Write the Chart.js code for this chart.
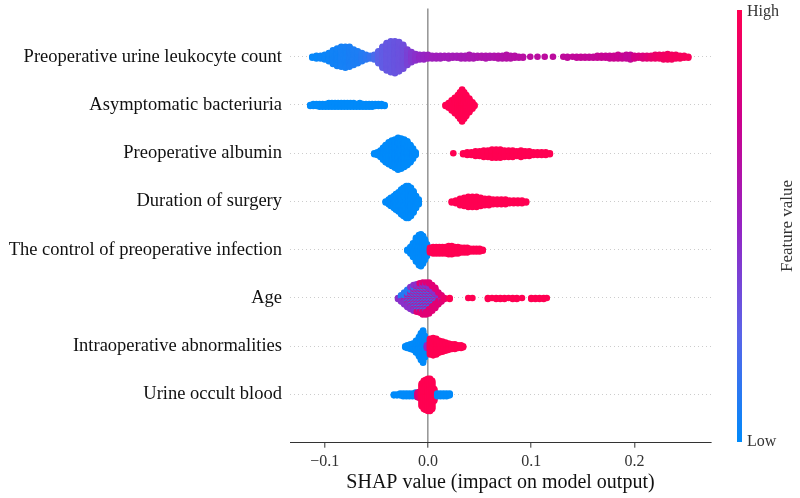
<!DOCTYPE html>
<html>
<head>
<meta charset="utf-8">
<script src="https://cdn.jsdelivr.net/npm/chart.js@4.4.1/dist/chart.umd.min.js"></script>
<style>
  html, body { margin: 0; padding: 0; background: #fff; }
  #wrap { width: 800px; height: 498px; }
</style>
</head>
<body>
<div id="wrap"><canvas id="shap-chart"></canvas></div>
<script>
// Feature names, top to bottom
const features = [
  'Preoperative urine leukocyte count',
  'Asymptomatic bacteriuria',
  'Preoperative albumin',
  'Duration of surgery',
  'The control of preoperative infection',
  'Age',
  'Intraoperative abnormalities',
  'Urine occult blood'
];

// Each entry: [SHAP value, number of samples at that value, feature value 0 (low) .. 1 (high)]
const leukocyteCount = [
  [-0.112, 2, 0.02], [-0.108, 4, 0.02], [-0.104, 4, 0.03], [-0.100, 6, 0.03], [-0.096, 10, 0.04],
  [-0.092, 16, 0.05], [-0.088, 20, 0.05], [-0.084, 23, 0.06], [-0.080, 24, 0.06], [-0.076, 23, 0.07],
  [-0.072, 18, 0.08], [-0.068, 14, 0.08], [-0.064, 10, 0.1], [-0.060, 6, 0.12], [-0.056, 4, 0.15],
  [-0.052, 6, 0.2], [-0.048, 14, 0.26], [-0.044, 24, 0.28], [-0.040, 31, 0.3], [-0.036, 35, 0.3],
  [-0.032, 36, 0.31], [-0.028, 33, 0.32], [-0.024, 27, 0.34], [-0.020, 18, 0.38], [-0.016, 12, 0.42],
  [-0.012, 8, 0.45], [-0.008, 6, 0.48], [-0.004, 6, 0.5], [0.000, 5, 0.52], [0.004, 4, 0.53],
  [0.008, 4, 0.54], [0.012, 4, 0.54], [0.016, 3, 0.55], [0.020, 4, 0.55], [0.024, 3, 0.56],
  [0.028, 3, 0.56], [0.032, 4, 0.57], [0.036, 4, 0.57], [0.040, 5, 0.58], [0.044, 4, 0.58],
  [0.048, 3, 0.59], [0.052, 3, 0.6], [0.056, 4, 0.6], [0.060, 3, 0.6], [0.064, 3, 0.61],
  [0.068, 4, 0.62], [0.072, 4, 0.62], [0.076, 5, 0.63], [0.080, 4, 0.63], [0.084, 3, 0.64],
  [0.088, 2, 0.64], [0.092, 2, 0.65], [0.099, 1, 0.66], [0.106, 1, 0.66], [0.113, 1, 0.67],
  [0.121, 1, 0.67], [0.131, 1, 0.68], [0.135, 2, 0.68], [0.140, 1, 0.69], [0.144, 2, 0.69],
  [0.148, 2, 0.7], [0.152, 2, 0.7], [0.156, 2, 0.7], [0.160, 2, 0.7], [0.164, 3, 0.71],
  [0.168, 3, 0.72], [0.172, 3, 0.72], [0.176, 4, 0.72], [0.180, 4, 0.73], [0.184, 5, 0.73],
  [0.188, 4, 0.72], [0.192, 5, 0.7], [0.196, 6, 0.7], [0.200, 4, 0.78], [0.204, 3, 0.8],
  [0.208, 4, 0.82], [0.212, 4, 0.85], [0.216, 4, 0.88], [0.220, 5, 0.9], [0.224, 5, 0.92],
  [0.228, 6, 0.93], [0.232, 7, 0.94], [0.236, 6, 0.95], [0.240, 5, 0.95], [0.244, 4, 0.96],
  [0.248, 3, 0.96], [0.252, 2, 0.97]
];

const bacteriuria = [
  [-0.114, 2, 0], [-0.111, 3, 0], [-0.108, 3, 0], [-0.105, 4, 0], [-0.102, 4, 0], [-0.099, 4, 0],
  [-0.096, 5, 0], [-0.093, 5, 0], [-0.090, 5, 0], [-0.087, 5, 0], [-0.084, 5, 0], [-0.081, 5, 0],
  [-0.078, 5, 0], [-0.075, 5, 0], [-0.072, 5, 0], [-0.069, 4, 0], [-0.066, 5, 0], [-0.063, 4, 0],
  [-0.060, 4, 0], [-0.057, 4, 0], [-0.054, 4, 0], [-0.051, 3, 0], [-0.048, 3, 0], [-0.045, 3, 0],
  [-0.042, 2, 0],
  [0.017, 2, 1], [0.020, 6, 1], [0.023, 12, 1], [0.026, 18, 1], [0.029, 24, 1], [0.031, 30, 1],
  [0.033, 36, 1], [0.035, 30, 1], [0.037, 24, 1], [0.040, 16, 1], [0.043, 8, 1], [0.045, 2, 1]
];

const albumin = [
  [-0.052, 2, 0], [-0.049, 4, 0], [-0.046, 8, 0], [-0.0435, 14, 0], [-0.041, 20, 0], [-0.038, 25, 0],
  [-0.035, 29, 0], [-0.032, 32, 0], [-0.029, 36, 0], [-0.026, 34, 0], [-0.023, 31, 0], [-0.020, 27, 0],
  [-0.017, 20, 0], [-0.0145, 12, 0], [-0.012, 4, 0],
  [0.0245, 1, 1], [0.034, 2, 1], [0.038, 4, 1], [0.042, 4, 1], [0.046, 6, 1], [0.050, 6, 1],
  [0.054, 8, 1], [0.058, 8, 1], [0.062, 10, 1], [0.066, 10, 1], [0.070, 10, 1], [0.074, 8, 1],
  [0.078, 8, 1], [0.082, 8, 1], [0.086, 6, 1], [0.090, 8, 1], [0.094, 6, 1], [0.098, 6, 1],
  [0.102, 4, 1], [0.106, 4, 1], [0.110, 4, 1], [0.114, 4, 1], [0.118, 2, 1]
];

const surgeryDuration = [
  [-0.041, 2, 0], [-0.038, 6, 0], [-0.036, 10, 0], [-0.033, 14, 0], [-0.031, 18, 0], [-0.0285, 22, 0],
  [-0.026, 28, 0], [-0.0237, 32, 0], [-0.021, 36, 0], [-0.019, 36, 0], [-0.0165, 32, 0], [-0.014, 24, 0],
  [-0.0116, 14, 0], [-0.009, 6, 0],
  [0.023, 2, 1], [0.027, 4, 1], [0.031, 8, 1], [0.035, 10, 1], [0.039, 12, 1], [0.043, 12, 1],
  [0.047, 12, 1], [0.051, 10, 1], [0.055, 8, 1], [0.059, 8, 1], [0.063, 6, 1], [0.067, 6, 1],
  [0.071, 6, 1], [0.075, 6, 1], [0.079, 4, 1], [0.083, 4, 1], [0.087, 4, 1], [0.091, 4, 1],
  [0.095, 2, 1]
];

const infectionControl = [
  [-0.020, 2, 0], [-0.017, 8, 0], [-0.0145, 16, 0], [-0.0116, 27, 0], [-0.0087, 34, 0],
  [-0.0068, 36, 0], [-0.0048, 31, 0], [-0.0029, 23, 0], [-0.001, 14, 0],
  [0.002, 6, 1], [0.005, 8, 1], [0.008, 8, 1], [0.011, 8, 1], [0.014, 8, 1], [0.017, 8, 1],
  [0.020, 10, 1], [0.023, 10, 1], [0.026, 8, 1], [0.029, 8, 1], [0.032, 6, 1], [0.035, 6, 1],
  [0.038, 6, 1], [0.041, 4, 1], [0.044, 4, 1], [0.047, 4, 1], [0.050, 4, 1], [0.053, 2, 1]
];

const age = [
  [-0.029, 2, 0.45],
  [-0.026, 4, 0.1], [-0.026, 4, 0.45],
  [-0.023, 6, 0.1], [-0.023, 6, 0.45], [-0.023, 2, 0.85],
  [-0.020, 8, 0.1], [-0.020, 8, 0.45], [-0.020, 4, 0.85],
  [-0.017, 9, 0.1], [-0.017, 10, 0.45], [-0.017, 6, 0.85],
  [-0.014, 10, 0.1], [-0.014, 11, 0.45], [-0.014, 8, 0.85],
  [-0.011, 10, 0.1], [-0.011, 11, 0.45], [-0.011, 10, 0.85],
  [-0.008, 10, 0.1], [-0.008, 11, 0.45], [-0.008, 12, 0.85],
  [-0.005, 10, 0.1], [-0.005, 12, 0.45], [-0.005, 14, 0.85],
  [-0.002, 10, 0.1], [-0.002, 12, 0.45], [-0.002, 14, 0.85],
  [0.001, 8, 0.1], [0.001, 12, 0.45], [0.001, 15, 0.85],
  [0.004, 6, 0.1], [0.004, 10, 0.45], [0.004, 13, 0.85],
  [0.007, 4, 0.1], [0.007, 8, 0.45], [0.007, 11, 0.85],
  [0.010, 2, 0.1], [0.010, 5, 0.45], [0.010, 7, 0.85],
  [0.013, 1, 0.1], [0.013, 3, 0.45], [0.013, 4, 0.85],
  [0.016, 2, 0.9],
  [0.021, 2, 1], [0.039, 1, 1], [0.043, 1, 1], [0.058, 2, 1], [0.062, 1, 1], [0.066, 2, 1],
  [0.070, 2, 1], [0.074, 2, 1], [0.078, 1, 1], [0.082, 2, 1], [0.086, 2, 1], [0.091, 1, 1],
  [0.100, 2, 1], [0.104, 2, 1], [0.108, 2, 1], [0.112, 2, 1], [0.115, 1, 1]
];

const intraopAbnormal = [
  [-0.022, 2, 0], [-0.020, 4, 0], [-0.017, 6, 0], [-0.0145, 8, 0], [-0.0116, 14, 0],
  [-0.0087, 22, 0], [-0.0068, 30, 0], [-0.0048, 36, 0], [-0.003, 24, 0], [-0.001, 4, 0.5],
  [0.002, 18, 1], [0.005, 20, 1], [0.008, 18, 1], [0.011, 14, 1], [0.014, 12, 1], [0.017, 10, 1],
  [0.020, 8, 1], [0.023, 6, 1], [0.026, 6, 1], [0.029, 4, 1], [0.032, 4, 1], [0.034, 2, 1]
];

const occultBlood = [
  [-0.033, 2, 0], [-0.030, 2, 0], [-0.027, 3, 0], [-0.024, 4, 0], [-0.021, 4, 0], [-0.018, 4, 0],
  [-0.015, 4, 0], [-0.012, 5, 0], [-0.010, 6, 0.8], [-0.008, 8, 0.9], [-0.006, 26, 1],
  [-0.004, 32, 1], [-0.002, 34, 1], [0.000, 36, 1], [0.002, 36, 1], [0.004, 32, 1], [0.006, 14, 1],
  [0.009, 4, 0], [0.012, 4, 0], [0.015, 4, 0], [0.018, 4, 0], [0.021, 3, 0]
];

const rows = [leukocyteCount, bacteriuria, albumin, surgeryDuration, infectionControl, age, intraopAbnormal, occultBlood];

const xTicks = [-0.1, 0.0, 0.1, 0.2];
const xTitle = 'SHAP value (impact on model output)';
const colorBarTitle = 'Feature value';
const highLabel = 'High';
const lowLabel = 'Low';

const fontFamily = '"Liberation Serif", "Times New Roman", serif';

// SHAP-style blue -> purple -> red colour map
const colorStops = [
  [0, [0, 138, 250]],
  [0.25, [90, 100, 232]],
  [0.5, [150, 35, 195]],
  [0.75, [205, 0, 140]],
  [1, [255, 0, 82]]
];

function fvColor(v) {
  for (let i = 1; i < colorStops.length; i++) {
    const [t1, c1] = colorStops[i];
    const [t0, c0] = colorStops[i - 1];
    if (v <= t1) {
      const f = (v - t0) / (t1 - t0);
      const c = c0.map((a, k) => Math.round(a + (c1[k] - a) * f));
      return `rgb(${c[0]},${c[1]},${c[2]})`;
    }
  }
  return 'rgb(255,0,82)';
}

// Stack samples that share a SHAP value the way shap's beeswarm does
function buildSwarm(allRows) {
  const points = [];
  allRows.forEach((groups, row) => {
    const columns = new Map();
    groups.forEach(([x, n, fv]) => {
      if (!columns.has(x)) columns.set(x, []);
      columns.get(x).push({ n, fv });
    });

    let maxLayer = 0;
    const cols = [];
    columns.forEach((parts, x) => {
      // interleave the colours of samples in the same column
      const left = parts.map(p => p.n);
      const fvs = [];
      let more = true;
      while (more) {
        more = false;
        parts.forEach((p, i) => {
          if (left[i] > 0) { fvs.push(p.fv); left[i]--; more = true; }
        });
      }
      cols.push({ x, fvs });
      maxLayer = Math.max(maxLayer, Math.ceil((fvs.length - 1) / 2));
    });

    const step = 0.9 * 0.4 / (maxLayer + 1);
    cols.forEach(c => {
      c.fvs.forEach((fv, k) => {
        const off = Math.ceil(k / 2) * (k % 2 ? 1 : -1) * step;
        points.push({ x: c.x, y: row + off, fv: fv });
      });
    });
  });
  return points;
}

const points = buildSwarm(rows);

// Colour bar with High / Low and its title on the right
const colorBarPlugin = {
  id: 'colorBar',
  afterDraw(chart) {
    const c = chart.ctx;
    const x = 737, top = 10, bottom = 442, w = 5;
    const g = c.createLinearGradient(0, bottom, 0, top);
    colorStops.forEach(([t, rgb]) => g.addColorStop(t, `rgb(${rgb[0]},${rgb[1]},${rgb[2]})`));
    c.save();
    c.fillStyle = g;
    c.fillRect(x, top, w, bottom - top);
    c.fillStyle = '#333';
    c.font = `16px ${fontFamily}`;
    c.textBaseline = 'middle';
    c.textAlign = 'left';
    c.fillText(highLabel, 747, 12);
    c.fillText(lowLabel, 747, 442);
    c.translate(788, 226);
    c.rotate(-Math.PI / 2);
    c.textAlign = 'center';
    c.font = `17px ${fontFamily}`;
    c.fillText(colorBarTitle, 0, 0);
    c.restore();
  }
};

const ctx = document.getElementById('shap-chart').getContext('2d');
new Chart(ctx, {
  type: 'scatter',
  data: {
    datasets: [{
      data: points,
      pointRadius: 3.3,
      pointHoverRadius: 3.3,
      pointBorderWidth: 0,
      pointBackgroundColor: points.map(p => fvColor(p.fv))
    }]
  },
  options: {
    responsive: true,
    maintainAspectRatio: false,
    animation: false,
    events: [],
    layout: { padding: { top: 8.5, right: 89, bottom: 0, left: 0 } },
    plugins: {
      legend: { display: false },
      tooltip: { enabled: false }
    },
    scales: {
      x: {
        type: 'linear',
        min: -0.1336,
        max: 0.274,
        afterBuildTicks: s => { s.ticks = xTicks.map(v => ({ value: v })); },
        afterFit: s => { s.height = 55.3; s.paddingLeft = 0; s.paddingRight = 0; },
        ticks: {
          font: { family: fontFamily, size: 16 },
          color: '#333',
          padding: 4,
          maxRotation: 0,
          callback: v => (v < 0 ? '\u2212' : '') + Math.abs(v).toFixed(1)
        },
        grid: {
          color: c => (c.tick && c.tick.value === 0 ? '#999' : 'rgba(0,0,0,0)'),
          lineWidth: 1.6,
          tickColor: '#333',
          tickLength: 5,
          tickWidth: 1
        },
        border: { display: true, color: '#333', width: 1 },
        title: {
          display: true,
          text: xTitle,
          font: { family: fontFamily, size: 20 },
          color: '#111',
          padding: { top: 0, bottom: 3 }
        }
      },
      y: {
        type: 'linear',
        reverse: true,
        min: -1,
        max: 8,
        afterBuildTicks: s => { s.ticks = features.map((f, i) => ({ value: i })); },
        afterFit: s => { s.width = 290; s.paddingTop = 0; s.paddingBottom = 0; },
        ticks: {
          font: { family: fontFamily, size: 18.5 },
          color: '#111',
          padding: 8,
          callback: v => features[v]
        },
        grid: { color: '#ccc', lineWidth: 1, drawTicks: false },
        border: { display: false, dash: [1, 3] }
      }
    }
  },
  plugins: [colorBarPlugin]
});
</script>
</body>
</html>
